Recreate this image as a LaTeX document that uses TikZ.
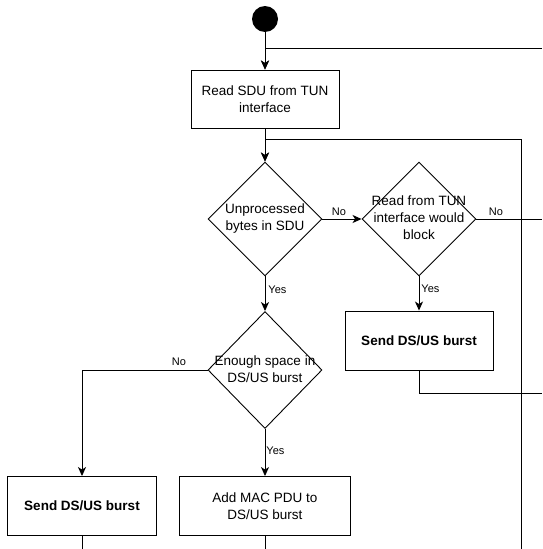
\documentclass[tikz,border=0pt]{standalone}
\usepackage{fontspec}
\setmainfont{Liberation Sans}
\usetikzlibrary{shapes.geometric,arrows.meta}
\begin{document}
\begin{tikzpicture}[x=1pt,y=-1pt,
  line width=0.9pt,
  every node/.style={inner sep=0pt},
  box/.style={draw,rectangle,minimum height=59pt,align=center,font=\fontsize{13.5}{17}\selectfont},
  dec/.style={draw,diamond,minimum width=114pt,minimum height=114pt},
  dectext/.style={align=center,font=\fontsize{13.5}{17}\selectfont},
  lbl/.style={font=\fontsize{11}{13}\selectfont},
  arr/.style={-{Stealth[length=9pt,width=8pt,inset=2.5pt]}}
]
\useasboundingbox (0,0) rectangle (542,549);
\fill[white] (0,0) rectangle (542,549);

% nodes
\node[circle,fill=black,minimum size=26pt] (start) at (265,19) {};
\node[box,minimum width=148pt,minimum height=58pt] (read) at (265,99) {Read SDU from TUN\\interface};
\node[dec] (unproc) at (265,219) {};
\node[dectext] (unproct) at (265,219) {Unprocessed\\bytes in SDU};
\node[dec] (block) at (419,219) {};
\node[dectext] (blockt) at (419,218) {Read from TUN\\interface would\\block};
\node[box,minimum width=148pt,font=\bfseries\fontsize{13.5}{17}\selectfont] (sendr) at (419,340.5) {Send DS/US burst};
\node[dec,minimum height=117pt] (space) at (265,370) {};
\node[dectext] (spacet) at (265,369.5) {Enough space in\\DS/US burst};
\node[box,minimum width=149pt,font=\bfseries\fontsize{13.5}{17}\selectfont] (sendl) at (82,506) {Send DS/US burst};
\node[box,minimum width=171pt] (add) at (265,506) {Add MAC PDU to\\DS/US burst};

% free ends
\coordinate (e1) at (542,48);
\coordinate (j1) at (265,139);
\coordinate (b1) at (521,549);
\coordinate (e2) at (542,219);
\coordinate (e3) at (542,393);
\coordinate (b2) at (82,549);
\coordinate (b3) at (265,549);

% connectors
\draw[arr] (start) -- (read);
\draw[arr] (e1) -| (read.north);
\draw[arr] (read) -- (unproc);
\draw[arr] (b1) |- (j1) -- (unproc.north);
\draw[arr] (unproc.east) -- node[lbl,pos=0.42,above=3pt] (no1) {No} (block.west);
\draw (block.east) -- (e2);
\node[lbl] (no2) at (496,212) {No};
\draw[arr] (unproc.south) -- (space.north);
\node[lbl,anchor=west] (yes1) at (268,290) {Yes};
\draw[arr] (block.south) -- (sendr.north);
\node[lbl,anchor=west] (yes2) at (421,289) {Yes};
\draw (sendr.south) |- (e3);
\draw[arr] (space.west) -| (sendl.north);
\node[lbl] (no3) at (179,361.5) {No};
\draw[arr] (space.south) -- (add.north);
\node[lbl,anchor=west] (yes3) at (266,451) {Yes};
\draw (sendl.south) -- (b2);
\draw (add.south) -- (b3);
\end{tikzpicture}
\end{document}
